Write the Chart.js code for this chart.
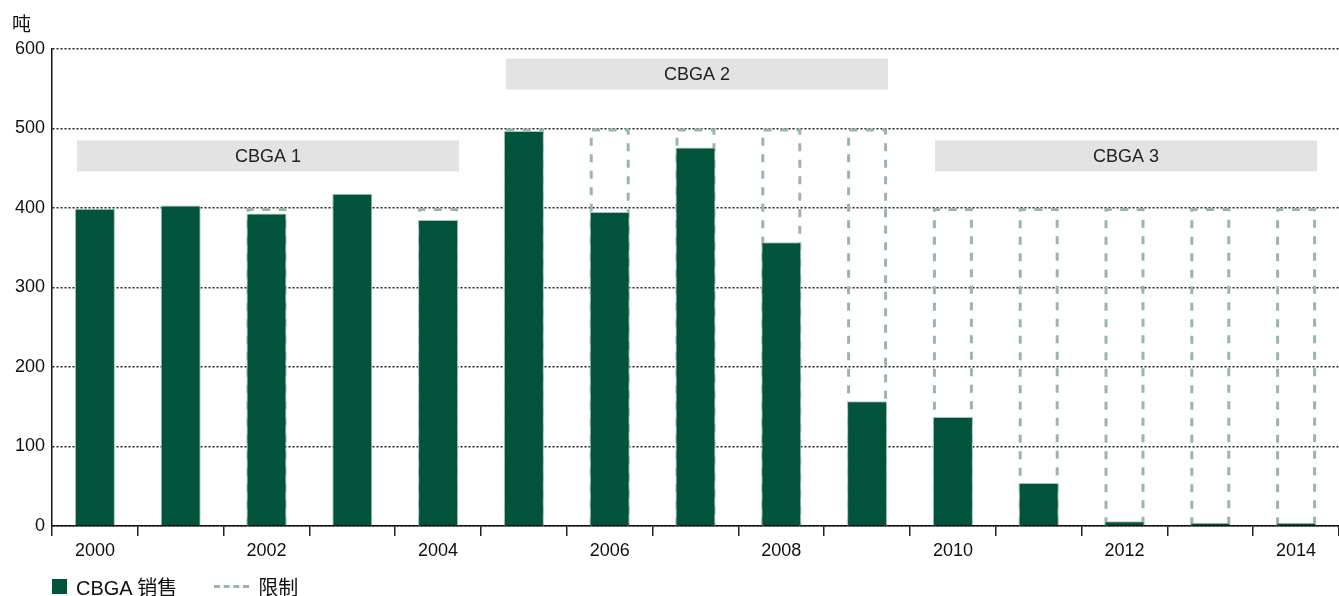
<!DOCTYPE html>
<html lang="zh">
<head>
<meta charset="utf-8" />
<title>CBGA 销售</title>
<script src="https://cdn.jsdelivr.net/npm/chart.js@4.4.1/dist/chart.umd.min.js"></script>
<style>
  body { margin: 0; background: #fff; font-family: "Liberation Sans", "Noto Sans CJK SC", sans-serif; }
  #wrap { position: relative; width: 1339px; height: 596px; }
  #unit { position: absolute; left: 12px; top: 9px; font-size: 19px; color: #111; font-family: "Noto Sans CJK SC", sans-serif; }
  #legend { position: absolute; left: 52px; top: 572px; font-size: 20px; color: #111; display: flex; align-items: center; }
  .sw { display: inline-block; width: 15px; height: 15px; background: #02533b; margin-right: 9px; }
  .dash { display: inline-block; width: 35px; height: 0; border-top: 3px dashed #9bb6a9; margin: 0 9px 0 37px; }
</style>
</head>
<body>
<div id="wrap">
  <canvas id="myChart" width="1339" height="596"></canvas>
  <div id="unit">吨</div>
  <div id="legend"><span class="sw"></span>CBGA 销售<span class="dash"></span>限制</div>
</div>
<script>
const years = ['2000','2001','2002','2003','2004','2005','2006','2007','2008','2009','2010','2011','2012','2013','2014'];
const sales = [399, 403, 393, 418, 385, 497, 395, 476, 357, 157, 137, 54, 6, 4, 4];
const limits = [null, null, 400, null, 400, 500, 500, 500, 500, 500, 400, 400, 400, 400, 400];
const periods = ['CBGA 1', 'CBGA 2', 'CBGA 3'];
const periodFirst = [0, 5, 10];
const periodLast = [4, 9, 14];
const periodTop = [485, 588, 485];
const periodBottom = [446, 549, 446];

const FONT = '"Liberation Sans", "Noto Sans CJK SC", sans-serif';

// dashed outline for the limit bars
const dashedLimits = {
  id: 'dashedLimits',
  afterDatasetDraw(chart, args) {
    if (args.index !== 1) return;
    const ctx = chart.ctx;
    ctx.save();
    ctx.strokeStyle = '#9bb6a9';
    ctx.lineWidth = 3;
    ctx.setLineDash([8, 8.5]);
    args.meta.data.forEach((el, i) => {
      if (limits[i] == null) return;
      const l = el.x - el.width / 2 + 1.5;
      const r = el.x + el.width / 2 - 1.5;
      const t = el.y + 1.5;
      const b = el.base;
      ctx.beginPath();
      ctx.moveTo(l, b);
      ctx.lineTo(l, t);
      ctx.lineTo(r, t);
      ctx.lineTo(r, b);
      ctx.stroke();
    });
    ctx.restore();
  }
};

// grey period boxes
const periodBoxes = {
  id: 'periodBoxes',
  beforeDatasetsDraw(chart) {
    const ctx = chart.ctx;
    const meta = chart.getDatasetMeta(0);
    const y = chart.scales.y;
    ctx.save();
    periods.forEach((p, i) => {
      const a = meta.data[periodFirst[i]];
      const z = meta.data[periodLast[i]];
      const l = a.x - a.width / 2 + 2;
      const r = z.x + z.width / 2 + 1;
      const t = y.getPixelForValue(periodTop[i]);
      const b = y.getPixelForValue(periodBottom[i]);
      ctx.fillStyle = '#e3e3e3';
      ctx.fillRect(l, t, r - l, b - t);
      ctx.fillStyle = '#222';
      ctx.font = '18px ' + FONT;
      ctx.textAlign = 'center';
      ctx.textBaseline = 'middle';
      ctx.fillText(p, (l + r) / 2, (t + b) / 2 + 1);
    });
    ctx.restore();
  }
};

new Chart(document.getElementById('myChart'), {
  type: 'bar',
  data: {
    labels: years,
    datasets: [
      {
        label: 'CBGA 销售',
        data: sales,
        backgroundColor: '#02533b',
        borderColor: '#a9c4b6',
        borderWidth: { left: 1, right: 1, top: 1, bottom: 0 },
        order: 1
      },
      {
        label: '限制',
        data: limits,
        backgroundColor: 'rgba(0,0,0,0)',
        borderWidth: 0,
        order: 2
      }
    ]
  },
  options: {
    responsive: false,
    animation: false,
    events: [],
    layout: { padding: { top: 49, right: 0, left: 0, bottom: 0 } },
    datasets: { bar: { grouped: false, barPercentage: 0.466, categoryPercentage: 1 } },
    plugins: { legend: { display: false }, tooltip: { enabled: false } },
    scales: {
      x: {
        offset: true,
        grid: { offset: true, drawOnChartArea: false, color: '#222', tickLength: 10, lineWidth: 1.5 },
        border: { color: '#111', width: 1.5 },
        ticks: {
          autoSkip: false,
          maxRotation: 0,
          padding: 4,
          color: '#111',
          font: { size: 18, family: FONT },
          callback: (v, i) => (i % 2 === 0 ? years[i] : '')
        },
        afterFit(s) { s.height = 70; }
      },
      y: {
        min: 0,
        max: 600,
        ticks: { stepSize: 100, padding: 7, color: '#111', font: { size: 18, family: FONT } },
        grid: { color: '#222', lineWidth: 1.5, drawTicks: false },
        border: { color: '#111', width: 1.5, dash: [2, 2] },
        afterFit(s) { s.width = 52; }
      }
    }
  },
  plugins: [periodBoxes, dashedLimits]
});
</script>
</body>
</html>
